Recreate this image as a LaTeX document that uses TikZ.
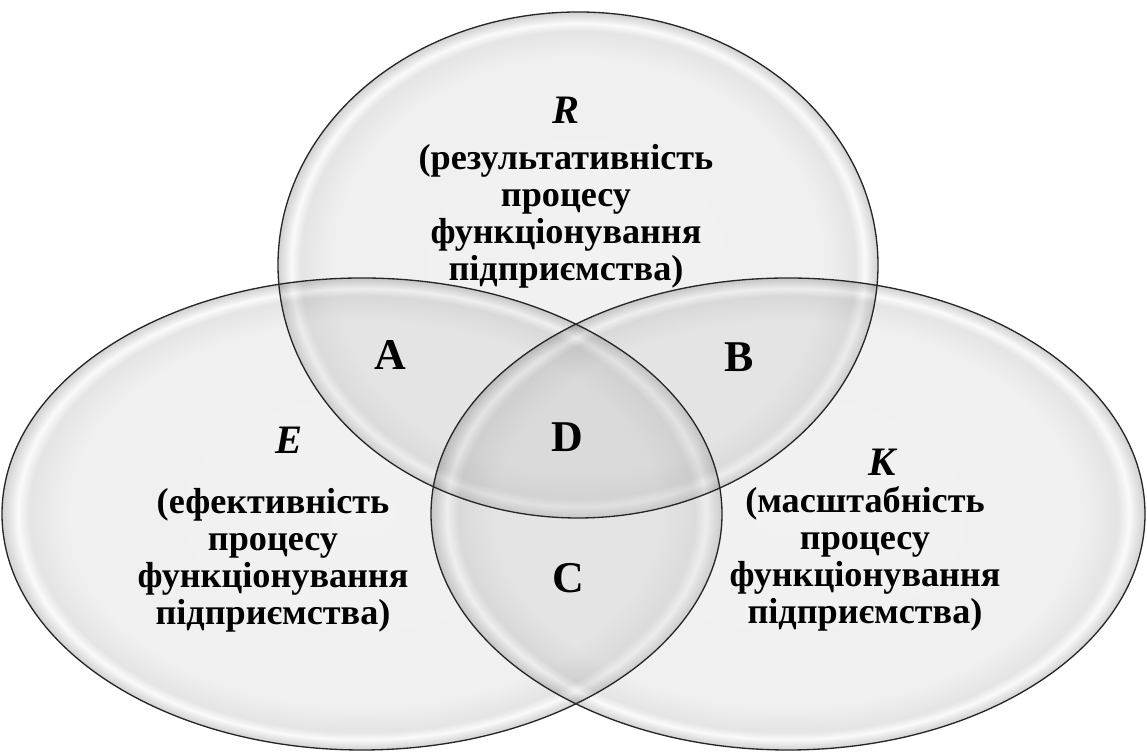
\documentclass[tikz,border=0pt]{standalone}
\usepackage{fontspec}
\setmainfont{Liberation Serif}
\usepackage{tikz}

% bubble-like fill for the three sets (path edge sits at 25bp)
\pgfdeclareradialshading{bubble}{\pgfpoint{0bp}{0bp}}{%
  color(0bp)=(black!26); color(20.5bp)=(black!30); color(23.1bp)=(black!52);
  color(23.9bp)=(black!10); color(24.5bp)=(black!55); color(25bp)=(black!90);
  color(50bp)=(black!90)}

\begin{document}
\begin{tikzpicture}[
    x=0.02cm, y=0.02cm,
    vennfill/.style={shade, shading=bubble, fill opacity=0.2},
    vennline/.style={draw=black!85, line width=0.75pt},
    setname/.style={font=\bfseries\itshape\fontsize{23}{26}\selectfont},
    setbody/.style={font=\bfseries\fontsize{20.6}{21}\selectfont, align=center, inner sep=0pt},
    region/.style={font=\bfseries\fontsize{25}{28}\selectfont},
  ]
    \useasboundingbox (0,0) rectangle (1147,753);
    \coordinate (cR) at (578,488);
    \coordinate (cE) at (362,239);
    \coordinate (cK) at (788,239);
    % fills first, outlines on top
    \path[vennfill] (cR) ellipse (300 and 253);
    \path[vennfill] (cE) ellipse (360 and 236);
    \path[vennfill] (cK) ellipse (357 and 236);
    \path[vennline] (cR) ellipse (300 and 253);
    \path[vennline] (cE) ellipse (360 and 236);
    \path[vennline] (cK) ellipse (357 and 236);
    % set R
    \node[setname] (nameR) at (566,643) {R};
    \node[setbody] (bodyR) at (566,537) {(результативність\\процесу\\функціонування\\підприємства)};
    % set E
    \node[setname] (nameE) at (289,313) {E};
    \node[setbody] (bodyE) at (273,193) {(ефективність\\процесу\\функціонування\\підприємства)};
    % set K
    \node[setname] (nameK) at (882,291) {К};
    \node[setbody] (bodyK) at (865,194) {(масштабність\\процесу\\функціонування\\підприємства)};
    % overlaps
    \foreach \nm/\x/\y in {A/390/398, B/739/396, D/567/316, C/568/175} {
      \node[region] (reg\nm) at (\x,\y) {\nm};
    }
\end{tikzpicture}
\end{document}
